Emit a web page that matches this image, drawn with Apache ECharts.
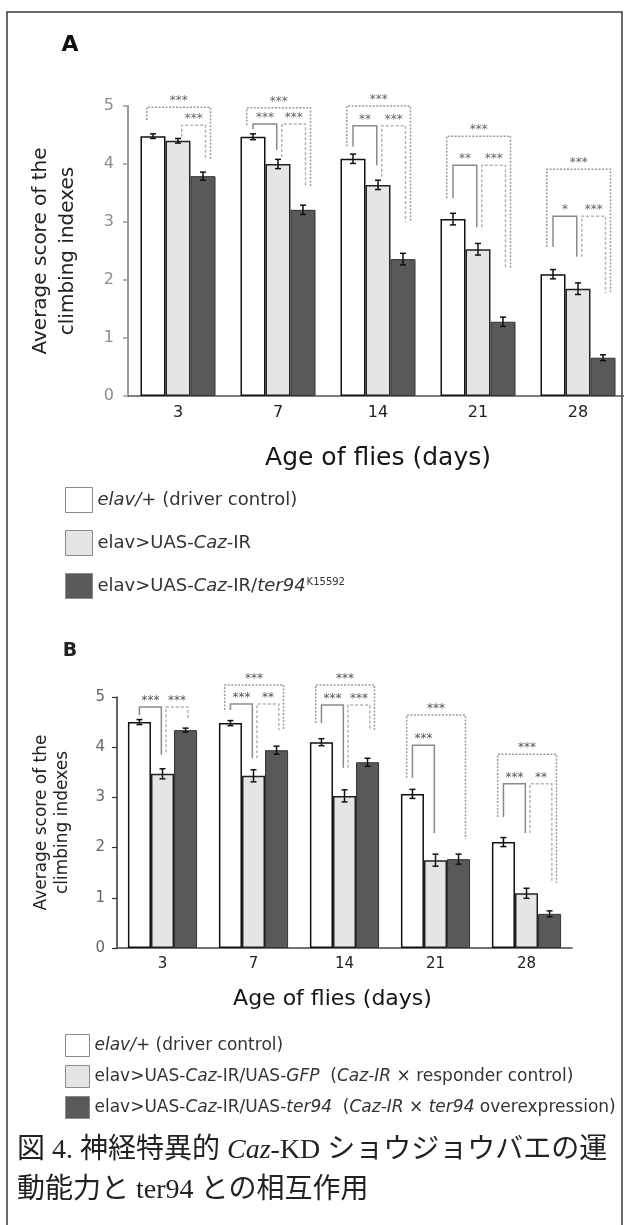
<!DOCTYPE html>
<html>
<head>
<meta charset="utf-8">
<script src="https://cdn.jsdelivr.net/npm/echarts@6/dist/echarts.min.js"></script>
<style>
html, body { margin: 0; padding: 0; background: #fff; }
#chart { width: 624px; height: 1225px; }
</style>
</head>
<body>
<div id="chart"></div>
<script>
// ---- data -------------------------------------------------------------
const days = ['3', '7', '14', '21', '28'];
const yTicks = [0, 1, 2, 3, 4, 5];

// Panel A: average climbing score and error per genotype
const aDriver      = [4.48, 4.47, 4.09, 3.05, 2.10];
const aCazIR       = [4.40, 4.00, 3.64, 2.53, 1.85];
const aCazTer94    = [3.79, 3.21, 2.36, 1.28, 0.66];
const aDriverErr   = [0.04, 0.05, 0.08, 0.10, 0.08];
const aCazIRErr    = [0.04, 0.08, 0.08, 0.10, 0.10];
const aCazTer94Err = [0.07, 0.08, 0.10, 0.08, 0.05];

// Panel B
const bDriver    = [4.50, 4.48, 4.10, 3.07, 2.11];
const bGFP       = [3.47, 3.43, 3.03, 1.75, 1.09];
const bTer94     = [4.34, 3.94, 3.70, 1.77, 0.68];
const bDriverErr = [0.05, 0.05, 0.07, 0.09, 0.09];
const bGFPErr    = [0.10, 0.12, 0.12, 0.12, 0.10];
const bTer94Err  = [0.04, 0.08, 0.08, 0.10, 0.06];

// significance brackets:
// [day index, first bar, last bar, bracket level, left leg end, right leg end, stars]
const sigA = [
  [0, 0, 2, 4.98, 4.76, 4.07, '***'],
  [0, 1, 2, 4.67, 4.47, 4.07, '***'],
  [1, 0, 2, 4.97, 4.67, 3.60, '***'],
  [1, 0, 1, 4.69, 4.60, 4.24, '***'],
  [1, 1, 2, 4.69, 4.12, 3.60, '***'],
  [2, 0, 2, 5.00, 4.30, 3.00, '***'],
  [2, 0, 1, 4.66, 4.30, 3.98, '**'],
  [2, 1, 2, 4.66, 3.78, 3.00, '***'],
  [3, 0, 2, 4.48, 3.41, 2.20, '***'],
  [3, 0, 1, 3.98, 3.41, 2.91, '**'],
  [3, 1, 2, 3.98, 2.91, 2.20, '***'],
  [4, 0, 2, 3.91, 2.57, 1.77, '***'],
  [4, 0, 1, 3.10, 2.57, 2.40, '*'],
  [4, 1, 2, 3.10, 2.40, 1.77, '***']
];
const sigB = [
  [0, 0, 1, 4.80, 4.64, 3.85, '***'],
  [0, 1, 2, 4.80, 3.90, 4.58, '***'],
  [1, 0, 2, 5.24, 4.74, 4.34, '***'],
  [1, 0, 1, 4.86, 4.74, 3.78, '***'],
  [1, 1, 2, 4.86, 3.78, 4.34, '**'],
  [2, 0, 2, 5.24, 4.48, 4.34, '***'],
  [2, 0, 1, 4.84, 4.48, 3.59, '***'],
  [2, 1, 2, 4.84, 3.59, 4.34, '***'],
  [3, 0, 2, 4.64, 3.39, 2.17, '***'],
  [3, 0, 1, 4.04, 3.39, 2.29, '***'],
  [4, 0, 2, 3.86, 2.61, 1.30, '***'],
  [4, 0, 1, 3.27, 2.61, 2.29, '***'],
  [4, 1, 2, 3.27, 2.29, 1.30, '**']
];

// series names and their legend text (rich markup)
const namesA = ['elav/+ (driver control)', 'elav>UAS-Caz-IR', 'elav>UAS-Caz-IR/ter94K15592'];
const legendTextA = ['{i|elav/+} (driver control)', 'elav>UAS-{i|Caz}-IR', 'elav>UAS-{i|Caz}-IR/{i|ter94}{sup|K15592}'];
const namesB = ['elav/+ (driver control)', 'elav>UAS-Caz-IR/UAS-GFP (Caz-IR × responder control)', 'elav>UAS-Caz-IR/UAS-ter94 (Caz-IR × ter94 overexpression)'];
const legendTextB = ['{i|elav/+} (driver control)',
  'elav>UAS-{i|Caz}-IR/UAS-{i|GFP}  ({i|Caz-IR} × responder control)',
  'elav>UAS-{i|Caz}-IR/UAS-{i|ter94}  ({i|Caz-IR} × {i|ter94} overexpression)'];

const panelLabels = ['A', 'B'];
const yName = 'Average score of the\nclimbing indexes';
const xName = 'Age of flies (days)';
const caption = ['図 4. 神経特異的 {i|Caz}-KD ショウジョウバエの運', '動能力と ter94 との相互作用'];

// ---- styling ----------------------------------------------------------
const SANS = "'DejaVu Sans', 'Liberation Sans', sans-serif";
const SERIF = "'Liberation Serif', 'Noto Sans CJK JP', serif";
const GAP_A = 0.25, GAP_B = 0.24;

const barStyles = [
  { color: '#ffffff', borderColor: '#111', borderWidth: 1.5 },
  { color: '#e5e5e5', borderColor: '#222', borderWidth: 1.5 },
  { color: '#595959', borderColor: '#333', borderWidth: 1 }
];

// bracket end offsets, in bar widths, by bracket span
function bracketOffsets(first, last) {
  if (first === 0 && last === 2) return [-0.25, 0.3];
  if (first === 0) return [0, -0.05];
  return [0.15, 0.1];
}
function bracketStyle(first, last) {
  if (first === 0 && last === 2) return { stroke: '#9c9c9c', lineWidth: 1.5, lineDash: [2, 1.5] };
  if (first === 0) return { stroke: '#8a8a8a', lineWidth: 1.5 };
  return { stroke: '#b4b4b4', lineWidth: 1.5, lineDash: [3, 2] };
}

function barSeries(name, values, idx, axis, gap) {
  return {
    type: 'bar', name: name, data: values,
    xAxisIndex: axis, yAxisIndex: axis,
    barGap: '0%', barCategoryGap: (gap * 100) + '%',
    itemStyle: barStyles[idx],
    z: 2
  };
}

function errorSeries(values, errs, idx, axis, gap) {
  return {
    type: 'custom', xAxisIndex: axis, yAxisIndex: axis, z: 6,
    data: values.map((v, i) => [i, v, errs[i]]),
    encode: { x: 0, y: 1 },
    renderItem: function (params, api) {
      const cat = api.value(0), v = api.value(1), e = api.value(2);
      const bw = api.size([1, 0])[0] * (1 - gap) / 3;
      const cx = api.coord([cat, v])[0] + (idx - 1) * bw;
      const yt = api.coord([cat, v + e])[1];
      const yb = api.coord([cat, v - e])[1];
      const st = { stroke: '#111', lineWidth: 1.5 };
      return { type: 'group', children: [
        { type: 'line', shape: { x1: cx, y1: yt, x2: cx, y2: yb }, style: st },
        { type: 'line', shape: { x1: cx - 3, y1: yt, x2: cx + 3, y2: yt }, style: st },
        { type: 'line', shape: { x1: cx - 3, y1: yb, x2: cx + 3, y2: yb }, style: st }
      ] };
    }
  };
}

function bracketSeries(sig, axis, gap, starColor) {
  return {
    type: 'custom', xAxisIndex: axis, yAxisIndex: axis, z: 4, clip: false,
    data: sig.map(r => r.slice(0, 6)),
    encode: { x: 0, y: 3 },
    renderItem: function (params, api) {
      const r = sig[params.dataIndex];
      const cat = r[0], first = r[1], last = r[2];
      const bw = api.size([1, 0])[0] * (1 - gap) / 3;
      const cx = api.coord([cat, 0])[0];
      const off = bracketOffsets(first, last);
      const xL = cx + (first - 1 + off[0]) * bw;
      const xR = cx + (last - 1 + off[1]) * bw;
      const yTop = api.coord([cat, r[3]])[1];
      const yL = api.coord([cat, r[4]])[1];
      const yR = api.coord([cat, r[5]])[1];
      return { type: 'group', children: [
        { type: 'polyline', shape: { points: [[xL, yL], [xL, yTop], [xR, yTop], [xR, yR]] },
          style: Object.assign({ fill: null }, bracketStyle(first, last)) },
        { type: 'text', x: (xL + xR) / 2, y: yTop - 6,
          style: { text: r[6], fill: starColor, font: '12px ' + SANS, align: 'center', verticalAlign: 'middle' } }
      ] };
    }
  };
}

function legendRich(size) {
  return {
    i: { fontStyle: 'italic', fontSize: size, fontFamily: SANS, color: '#333' },
    sup: { fontSize: Math.round(size * 0.55), fontFamily: SANS, color: '#333', verticalAlign: 'top', padding: [0, 0, 0, 1] }
  };
}

const chart = echarts.init(document.getElementById('chart'), null, { renderer: 'canvas' });

const option = {
  animation: false,
  backgroundColor: '#fff',
  grid: [
    { left: 128, top: 106, width: 500, height: 290, outerBoundsMode: 'none' },
    { left: 117, top: 697, width: 455, height: 251, outerBoundsMode: 'none' }
  ],
  xAxis: [
    {
      gridIndex: 0, type: 'category', data: days,
      axisLine: { lineStyle: { color: '#555', width: 1.5 } },
      axisTick: { show: false },
      axisLabel: { color: '#222', fontSize: 16, fontFamily: SANS, margin: 9 },
      name: xName, nameLocation: 'middle', nameGap: 50,
      nameTextStyle: { color: '#151515', fontSize: 25, fontFamily: SANS }
    },
    {
      gridIndex: 1, type: 'category', data: days,
      axisLine: { lineStyle: { color: '#444', width: 1.5 } },
      axisTick: { show: false },
      axisLabel: { color: '#222', fontSize: 15, fontFamily: SANS, margin: 9 },
      name: xName, nameLocation: 'middle', nameGap: 40,
      nameTextStyle: { color: '#151515', fontSize: 22, fontFamily: SANS, padding: [0, 24, 0, 0] }
    }
  ],
  yAxis: [
    {
      gridIndex: 0, type: 'value', min: yTicks[0], max: yTicks[yTicks.length - 1], interval: 1,
      splitLine: { show: false },
      axisLine: { show: true, lineStyle: { color: '#9a9a9a', width: 2 } },
      axisTick: { show: true, length: 5, lineStyle: { color: '#9a9a9a', width: 1.5 } },
      axisLabel: { color: '#8c8c8c', fontSize: 16, fontFamily: SANS, margin: 14 },
      name: yName, nameLocation: 'middle', nameGap: 47, nameRotate: 90,
      nameTextStyle: { color: '#222', fontSize: 20, lineHeight: 27, fontFamily: SANS }
    },
    {
      gridIndex: 1, type: 'value', min: yTicks[0], max: yTicks[yTicks.length - 1], interval: 1,
      splitLine: { show: false },
      axisLine: { show: true, lineStyle: { color: '#333', width: 1.5 } },
      axisTick: { show: true, length: 5, lineStyle: { color: '#333', width: 1.2 } },
      axisLabel: { color: '#666', fontSize: 15, fontFamily: SANS, margin: 12 },
      name: yName, nameLocation: 'middle', nameGap: 44, nameRotate: 90,
      nameTextStyle: { color: '#222', fontSize: 17, lineHeight: 21, fontFamily: SANS }
    }
  ],
  legend: [
    {
      data: namesA, orient: 'vertical', left: 60, top: 482,
      itemWidth: 27, itemHeight: 25, itemGap: 17, icon: 'rect',
      selectedMode: false,
      itemStyle: { borderColor: '#8a8a8a', borderWidth: 1 },
      formatter: name => legendTextA[namesA.indexOf(name)],
      textStyle: { fontSize: 18, fontFamily: SANS, color: '#333', rich: legendRich(18) }
    },
    {
      data: namesB, orient: 'vertical', left: 60, top: 1029,
      itemWidth: 24, itemHeight: 22, itemGap: 8, icon: 'rect',
      selectedMode: false,
      itemStyle: { borderColor: '#8a8a8a', borderWidth: 1 },
      formatter: name => legendTextB[namesB.indexOf(name)],
      textStyle: { fontSize: 17, fontFamily: SANS, color: '#333', rich: legendRich(17) }
    }
  ],
  series: [
    barSeries(namesA[0], aDriver, 0, 0, GAP_A),
    barSeries(namesA[1], aCazIR, 1, 0, GAP_A),
    barSeries(namesA[2], aCazTer94, 2, 0, GAP_A),
    errorSeries(aDriver, aDriverErr, 0, 0, GAP_A),
    errorSeries(aCazIR, aCazIRErr, 1, 0, GAP_A),
    errorSeries(aCazTer94, aCazTer94Err, 2, 0, GAP_A),
    bracketSeries(sigA, 0, GAP_A, '#666'),

    barSeries(namesB[0], bDriver, 0, 1, GAP_B),
    barSeries(namesB[1], bGFP, 1, 1, GAP_B),
    barSeries(namesB[2], bTer94, 2, 1, GAP_B),
    errorSeries(bDriver, bDriverErr, 0, 1, GAP_B),
    errorSeries(bGFP, bGFPErr, 1, 1, GAP_B),
    errorSeries(bTer94, bTer94Err, 2, 1, GAP_B),
    bracketSeries(sigB, 1, GAP_B, '#555')
  ],
  graphic: [
    { type: 'rect', silent: true, z: 0,
      shape: { x: 7, y: 12, width: 615, height: 1240 },
      style: { fill: null, stroke: '#3a3a3a', lineWidth: 1.5 } },
    { type: 'text', x: 70, y: 45, z: 10,
      style: { text: panelLabels[0], font: 'bold 22px ' + SANS, fill: '#111', align: 'center', verticalAlign: 'middle' } },
    { type: 'text', x: 70, y: 651, z: 10,
      style: { text: panelLabels[1], font: 'bold 19px ' + SANS, fill: '#222', align: 'center', verticalAlign: 'middle' } },
    { type: 'text', x: 17, y: 1131, z: 10,
      style: {
        text: caption.join('\n'),
        font: '28px ' + SERIF, fill: '#222', lineHeight: 40,
        rich: { i: { fontStyle: 'italic', fontSize: 28, fontFamily: SERIF, fill: '#222', lineHeight: 40 } }
      } }
  ]
};

chart.setOption(option);
</script>
</body>
</html>
